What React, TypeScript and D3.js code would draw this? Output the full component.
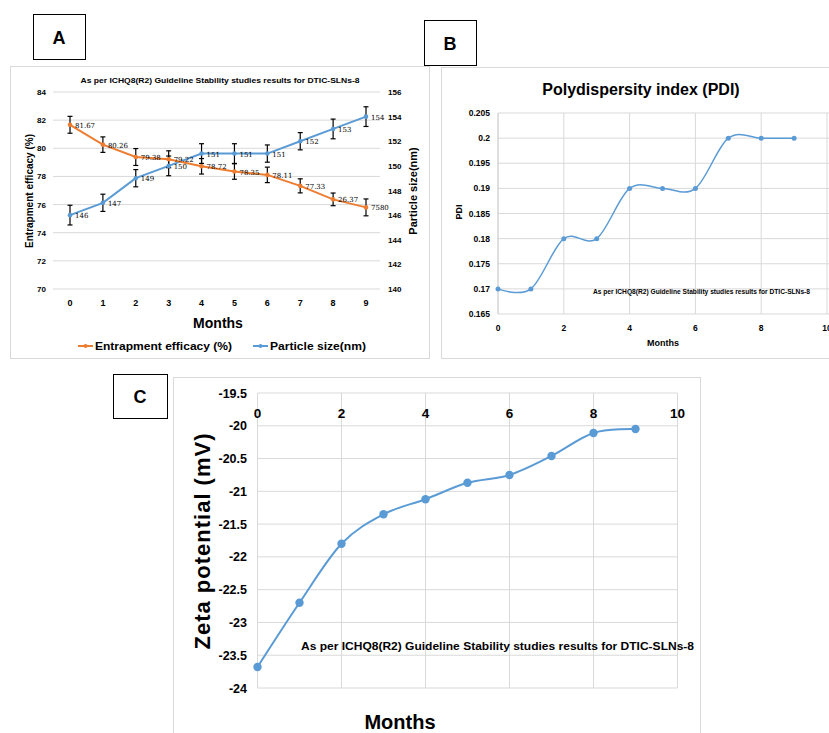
import React from "react";
import * as d3 from "d3";

// ---- data ----
const months = [0, 1, 2, 3, 4, 5, 6, 7, 8, 9];
const entrapment = [81.67, 80.26, 79.38, 79.22, 78.72, 78.35, 78.11, 77.33, 76.37, 75.8];
const entrapmentLabels = ["81.67", "80.26", "79.38", "79.22", "78.72", "78.35", "78.11", "77.33", "26.37", "7580"];
const entrapmentErr = [0.6, 0.55, 0.6, 0.6, 0.55, 0.55, 0.55, 0.5, 0.45, 0.6];
const particleSize = [146, 147, 149, 150, 151, 151, 151, 152, 153, 154];
const particleLabels = ["146", "147", "149", "150", "151", "151", "151", "152", "153", "154"];
const particleErr = [0.8, 0.7, 0.7, 0.8, 0.8, 0.8, 0.7, 0.7, 0.8, 0.8];
const leftTicksA = [70, 72, 74, 76, 78, 80, 82, 84];
const rightTicksA = [140, 142, 144, 146, 148, 150, 152, 154, 156];

const pdi = [0.17, 0.17, 0.18, 0.18, 0.19, 0.19, 0.19, 0.2, 0.2, 0.2];
const pdiTicks = [0.165, 0.17, 0.175, 0.18, 0.185, 0.19, 0.195, 0.2, 0.205];
const pdiXTicks = [0, 2, 4, 6, 8, 10];

const zeta = [-23.68, -22.7, -21.8, -21.35, -21.12, -20.87, -20.75, -20.46, -20.11, -20.05];
const zetaTicks = [-24, -23.5, -23, -22.5, -22, -21.5, -21, -20.5, -20, -19.5];
const zetaXTicks = [0, 2, 4, 6, 8, 10];

const note = "As per ICHQ8(R2) Guideline Stability studies results for DTIC-SLNs-8";

const ORANGE = "#ed7d31";
const BLUE = "#5b9bd5";
const GRID = "#d9d9d9";
const FONT = "Liberation Sans, Arial, sans-serif";

export default function App() {
  // panel A
  const xA = d3.scalePoint<number>().domain(months).range([70, 366]);
  const yL = d3.scaleLinear().domain([70, 84]).range([289, 92]);
  const yR = d3.scaleLinear().domain([140, 156]).range([289, 92]);
  const lineL = d3.line<number>().x((d, i) => xA(months[i])!).y(d => yL(d));
  const lineR = d3.line<number>().x((d, i) => xA(months[i])!).y(d => yR(d));

  // panel B
  const xB = d3.scaleLinear().domain([0, 10]).range([498, 827]);
  const yB = d3.scaleLinear().domain([0.165, 0.205]).range([314, 113]);
  const lineB = d3.line<number>().x((d, i) => xB(months[i])).y(d => yB(d)).curve(d3.curveCatmullRom.alpha(0));

  // panel C
  const xC = d3.scaleLinear().domain([0, 10]).range([257.5, 677.5]);
  const yC = d3.scaleLinear().domain([-24, -19.5]).range([688, 393]);
  const lineC = d3.line<number>().x((d, i) => xC(months[i])).y(d => yC(d)).curve(d3.curveCatmullRom.alpha(0));

  const errBar = (x: number, y0: number, y1: number, k: string) => (
    <g key={k} stroke="#000" strokeWidth={1.2}>
      <line x1={x} x2={x} y1={y0} y2={y1} />
      <line x1={x - 2.5} x2={x + 2.5} y1={y0} y2={y0} />
      <line x1={x - 2.5} x2={x + 2.5} y1={y1} y2={y1} />
    </g>
  );

  return (
    <svg width={829} height={733} style={{ position: "absolute", left: 0, top: 0, background: "#fff" }} fontFamily={FONT}>
      <rect width={829} height={733} fill="#fff" />

      {/* label boxes */}
      <rect x={33.5} y={14.5} width={52} height={45} fill="#fff" stroke="#000" />
      <text x={59} y={44} textAnchor="middle" fontSize={18} fontWeight="bold">A</text>
      <rect x={424.5} y={20.5} width={52} height={45} fill="#fff" stroke="#000" />
      <text x={450} y={50} textAnchor="middle" fontSize={18} fontWeight="bold">B</text>
      <rect x={113.5} y={374.5} width={54} height={44} fill="#fff" stroke="#000" />
      <text x={140} y={403} textAnchor="middle" fontSize={18} fontWeight="bold">C</text>

      {/* ===== Panel A ===== */}
      <rect x={10.5} y={66.5} width={419} height={292} fill="none" stroke={GRID} />
      <text x={220} y={83} textAnchor="middle" fontSize={8} fontWeight="bold" textLength={279} lengthAdjust="spacingAndGlyphs">{note}</text>
      {leftTicksA.map(t => (
        <g key={"la" + t}>
          <line x1={53} x2={380} y1={yL(t)} y2={yL(t)} stroke={GRID} />
          <text x={46} y={yL(t) + 3} textAnchor="end" fontSize={8} fontWeight="bold">{t}</text>
        </g>
      ))}
      {rightTicksA.map(t => (
        <text key={"ra" + t} x={388} y={yR(t) + 3} fontSize={8} fontWeight="bold">{t}</text>
      ))}
      {months.map(m => (
        <text key={"xa" + m} x={xA(m)} y={306} textAnchor="middle" fontSize={9} fontWeight="bold">{m}</text>
      ))}
      <text x={218} y={328} textAnchor="middle" fontSize={14} fontWeight="900">Months</text>
      <text transform="translate(33,191) rotate(-90)" textAnchor="middle" fontSize={10} fontWeight="bold">Entrapment efficacy (%)</text>
      <text transform="translate(417,191) rotate(-90)" textAnchor="middle" fontSize={11} fontWeight="bold">Particle size(nm)</text>

      <path d={lineR(particleSize)!} fill="none" stroke={BLUE} strokeWidth={2} />
      <path d={lineL(entrapment)!} fill="none" stroke={ORANGE} strokeWidth={2} />
      {particleSize.map((v, i) => errBar(xA(months[i])!, yR(v - particleErr[i]), yR(v + particleErr[i]), "pe" + i))}
      {entrapment.map((v, i) => errBar(xA(months[i])!, yL(v - entrapmentErr[i]), yL(v + entrapmentErr[i]), "ee" + i))}
      {particleSize.map((v, i) => (
        <g key={"pp" + i}>
          <circle cx={xA(months[i])} cy={yR(v)} r={2.3} fill={BLUE} />
          <text x={xA(months[i])! + 5} y={yR(v) + 3} fontSize={7} fontFamily="DejaVu Serif, serif">{particleLabels[i]}</text>
        </g>
      ))}
      {entrapment.map((v, i) => (
        <g key={"ep" + i}>
          <circle cx={xA(months[i])} cy={yL(v)} r={2.3} fill={ORANGE} />
          <text x={xA(months[i])! + 5} y={yL(v) + 3} fontSize={7} fontFamily="DejaVu Serif, serif">{entrapmentLabels[i]}</text>
        </g>
      ))}

      {/* legend */}
      <line x1={78} x2={93} y1={346} y2={346} stroke={ORANGE} strokeWidth={2} />
      <circle cx={85.5} cy={346} r={2} fill={ORANGE} />
      <text x={95} y={350} fontSize={10.5} fontWeight="bold" textLength={137} lengthAdjust="spacingAndGlyphs">Entrapment efficacy (%)</text>
      <line x1={253} x2={268} y1={346} y2={346} stroke={BLUE} strokeWidth={2} />
      <circle cx={260.5} cy={346} r={2} fill={BLUE} />
      <text x={270} y={350} fontSize={10.5} fontWeight="bold" textLength={96} lengthAdjust="spacingAndGlyphs">Particle size(nm)</text>

      {/* ===== Panel B ===== */}
      <rect x={441.5} y={67.5} width={400} height={291} fill="none" stroke={GRID} />
      <text x={641} y={95} textAnchor="middle" fontSize={16} fontWeight="bold">Polydispersity index (PDI)</text>
      {pdiTicks.map(t => (
        <g key={"pb" + t}>
          <line x1={498} x2={829} y1={yB(t)} y2={yB(t)} stroke={GRID} />
          <text x={490} y={yB(t) + 3} textAnchor="end" fontSize={8.5} fontWeight="bold">{+t.toFixed(3)}</text>
        </g>
      ))}
      {pdiXTicks.map(t => (
        <g key={"xb" + t}>
          {t > 0 && <line x1={xB(t)} x2={xB(t)} y1={113} y2={314} stroke={GRID} />}
          <text x={xB(t)} y={331} textAnchor="middle" fontSize={8.5} fontWeight="bold">{t}</text>
        </g>
      ))}
      <line x1={498} x2={498} y1={113} y2={314} stroke="#bfbfbf" />
      <text x={663} y={346} textAnchor="middle" fontSize={9} fontWeight="bold">Months</text>
      <text transform="translate(462,212) rotate(-90)" textAnchor="middle" fontSize={9} fontWeight="bold">PDI</text>
      <text x={593} y={294} fontSize={7} fontWeight="bold" textLength={217} lengthAdjust="spacingAndGlyphs">{note}</text>
      <path d={lineB(pdi)!} fill="none" stroke={BLUE} strokeWidth={1.5} />
      {pdi.map((v, i) => (
        <circle key={"bp" + i} cx={xB(months[i])} cy={yB(v)} r={2.5} fill={BLUE} />
      ))}

      {/* ===== Panel C ===== */}
      <rect x={173.5} y={377.5} width={527} height={370} fill="none" stroke={GRID} />
      {zetaTicks.map(t => (
        <g key={"zc" + t}>
          <line x1={257.5} x2={677.5} y1={yC(t)} y2={yC(t)} stroke={GRID} />
          <text x={247} y={yC(t) + 4.5} textAnchor="end" fontSize={12.5} fontWeight="bold">{t}</text>
        </g>
      ))}
      {zetaXTicks.map(t => (
        <g key={"xc" + t}>
          <line x1={xC(t)} x2={xC(t)} y1={393} y2={688} stroke={GRID} />
          <text x={xC(t)} y={418} textAnchor="middle" fontSize={13.5} fontWeight="bold">{t}</text>
        </g>
      ))}
      <text transform="translate(210,541) rotate(-90)" textAnchor="middle" fontSize={22} fontWeight="bold" letterSpacing={1}>Zeta potential (mV)</text>
      <text x={400} y={729} textAnchor="middle" fontSize={20} fontWeight="bold">Months</text>
      <text x={301} y={650} fontSize={11} fontWeight="bold" textLength={393} lengthAdjust="spacingAndGlyphs">{note}</text>
      <path d={lineC(zeta)!} fill="none" stroke={BLUE} strokeWidth={2} />
      {zeta.map((v, i) => (
        <circle key={"cp" + i} cx={xC(months[i])} cy={yC(v)} r={4.2} fill={BLUE} />
      ))}
    </svg>
  );
}
